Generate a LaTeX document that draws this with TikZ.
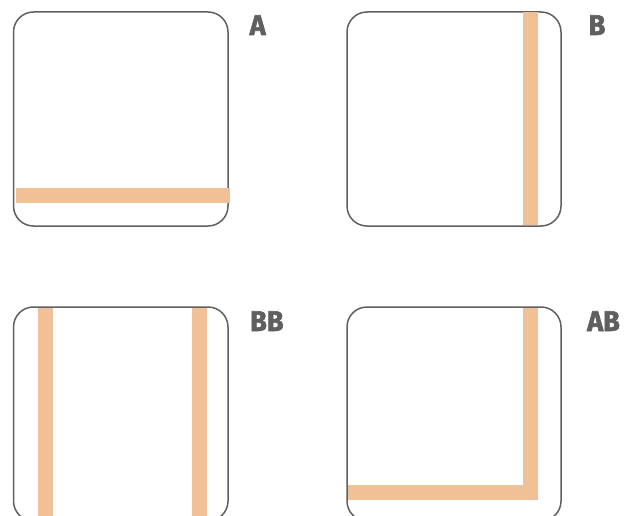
\documentclass[tikz,border=0pt]{standalone}
\usepackage{fontspec}
\setmainfont{Fira Sans}
\newfontfamily\tagfont{Fira Sans}[UprightFont=* Bold,FakeBold=2,FakeStretch=0.95]
\definecolor{frame}{HTML}{5F5F5F}
\definecolor{bar}{HTML}{F0C096}
\begin{document}
\begin{tikzpicture}[x=1pt,y=-1pt,
  panel/.style={draw=frame,line width=1.5pt,rounded corners=20pt},
  band/.style={fill=bar,draw=none},
  tag/.style={anchor=base west,inner sep=0pt,text=frame,font=\fontsize{28.5}{28.5}\selectfont\tagfont}]
\useasboundingbox (0,0) rectangle (634,516);
% A
\draw[panel] (13.5,12) rectangle (228,226);
\fill[band] (15.5,188) rectangle (229.5,203);
\node[tag] (la) at (249.5,35) {A};
% B
\draw[panel] (347,12) rectangle (561,226);
\fill[band] (523.3,12) rectangle (538.3,225);
\node[tag] (lb) at (588.5,35) {B};
% BB
\draw[panel] (13.5,307) rectangle (228,521);
\fill[band] (38.3,308) rectangle (53.3,516);
\fill[band] (192.3,308) rectangle (207.3,516);
\node[tag] (lbb) at (250,331) {BB};
% AB
\draw[panel] (347,307) rectangle (561,521);
\fill[band] (523.3,308) rectangle (538.3,500);
\fill[band] (347.5,485) rectangle (538.3,500);
\node[tag] (lab) at (587,331) {AB};
\end{tikzpicture}
\end{document}
